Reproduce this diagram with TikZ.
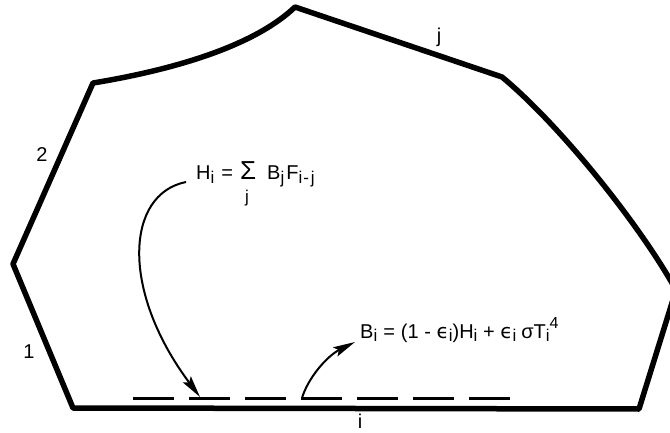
\documentclass[tikz,border=0pt]{standalone}
\usepackage{fontspec}
\setmainfont{Liberation Sans}
\newfontfamily\dejavu{DejaVu Sans}
\usetikzlibrary{arrows.meta}
\newcommand{\lsub}[1]{\raisebox{-3.5pt}{\fontsize{17}{17}\selectfont #1}}
\newcommand{\lsup}[1]{\raisebox{10pt}{\fontsize{16}{16}\selectfont #1}}
\newcommand{\leps}{{\dejavu ϵ}}
\begin{document}
\begin{tikzpicture}[x=1pt,y=-1pt,
  wall/.style={line width=5.5pt, line join=round},
  conn/.style={line width=2pt, -{Stealth[length=22pt,width=10pt,inset=4pt]}},
  dashline/.style={line width=3pt, dash pattern=on 41pt off 15pt},
  lbl/.style={font=\fontsize{20}{20}\selectfont, inner sep=0pt},
  eq/.style={font=\fontsize{20}{20}\selectfont, inner sep=0pt, anchor=base west}]
\useasboundingbox (0,0) rectangle (670,433);
\begin{scope}
\clip (0,0) rectangle (670,433);
\draw[wall] (73,408) -- (13,264) -- (93,83)
  .. controls (160,72) and (250,50) .. (295,7) -- (502,77)
  .. controls (560,125) and (640,225) .. (676,290) -- (639,409) -- cycle;
\end{scope}
% surface labels
\node[lbl] (lj) at (439,37) {j};
\node[lbl] (l2) at (42,155) {2};
\node[lbl] (l1) at (29,352) {1};
\node[lbl] (li) at (360,421) {i};
% dashed line
\coordinate (ds) at (133,398);
\coordinate (de) at (510,398);
\draw[dashline] (ds) -- (de);
% equations
\node[eq] (heq) at (196,180) {H\lsub{i}\hspace{7pt}=\hspace{7pt}{\fontsize{26}{26}\selectfont Σ}\hspace{11pt}B\lsub{j}\hspace{2pt}F\lsub{i\hspace{1pt}-\hspace{2pt}j}};
\node[eq] (sumj) at (245,203) {\fontsize{17}{17}\selectfont j};
\node[eq] (beq) at (360,338) {B\lsub{i}\hspace{6pt}=\hspace{6pt}(1 - \leps\lsub{i})H\lsub{i} + \leps\lsub{i}\hspace{5pt}σT\lsub{i}\lsup{4}};
% connectors
\coordinate (hs) at (186,182);
\coordinate (ht) at (200,397);
\draw[conn] (hs) .. controls (126,194) and (120,290) .. (ht);
\coordinate (bs) at (302,398);
\coordinate (bt) at (355,342);
\draw[conn] (bs) .. controls (308,378) and (327,356) .. (bt);
\end{tikzpicture}
\end{document}
